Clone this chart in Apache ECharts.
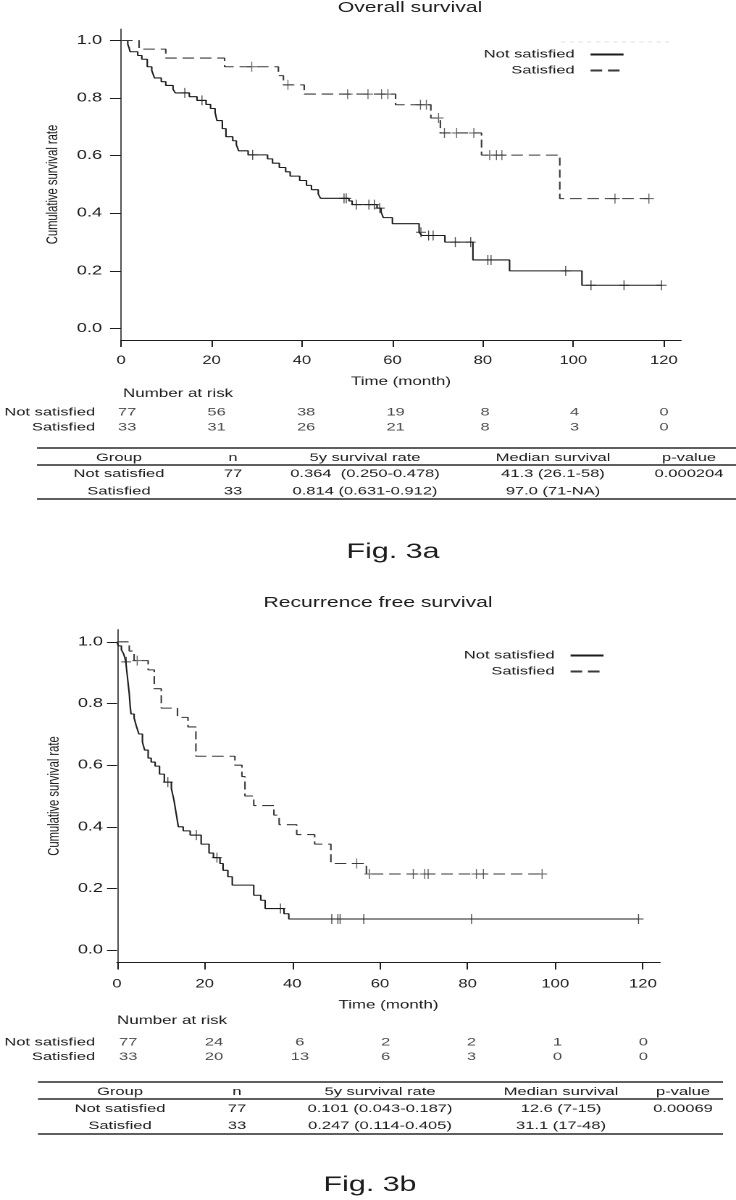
<!DOCTYPE html>
<html><head><meta charset="utf-8">
<script src="https://cdn.jsdelivr.net/npm/echarts@6/dist/echarts.min.js"></script>
<style>
html,body{margin:0;padding:0;background:#fff;overflow:hidden}
#chart{width:508px;height:1200px;transform:scaleX(1.448819);transform-origin:0 0}
</style>
</head><body><div id="chart"></div>
<script>
// ================= DATA =================
const timeTicks = [0, 20, 40, 60, 80, 100, 120];
const survTicks = [0, 0.2, 0.4, 0.6, 0.8, 1.0];
const groups = ['Not satisfied', 'Satisfied'];

// Overall survival - Not satisfied (event times, survival after event, censor times)
const osNotTimes = [1.5, 1.8, 2.0, 3.7, 4.6, 5.8, 6.8, 7.4, 8.9, 9.9, 11.5, 12.0, 15.1, 16.8, 18.8, 19.8, 20.8, 21.2, 22.4, 23.2, 24.7, 25.5, 26.0, 28.1, 32.4, 33.5, 35.0, 36.4, 37.4, 39.5, 41.0, 42.1, 43.6, 44.1, 50.4, 51.1, 56.6, 57.5, 58.0, 60.0, 65.9, 66.5, 71.6, 77.8, 85.9, 101.9];
const osNotSurv  = [0.987, 0.974, 0.961, 0.948, 0.935, 0.909, 0.896, 0.870, 0.857, 0.844, 0.831, 0.818, 0.805, 0.792, 0.778, 0.764, 0.750, 0.722, 0.694, 0.666, 0.652, 0.638, 0.617, 0.603, 0.589, 0.574, 0.559, 0.544, 0.529, 0.514, 0.497, 0.482, 0.467, 0.452, 0.443, 0.430, 0.418, 0.404, 0.385, 0.364, 0.334, 0.323, 0.300, 0.238, 0.200, 0.150];
const osNotCensor = [14.1, 17.9, 29.1, 49.3, 49.8, 52.0, 54.8, 56.0, 57.2, 66.3, 68.0, 69.0, 73.9, 77.3, 81.1, 81.8, 98.3, 103.9, 111.2, 119.5];

// Overall survival - Satisfied
const osSatTimes = [4.0, 9.9, 22.9, 34.8, 35.9, 40.5, 60.7, 68.5, 70.6, 79.7, 97.0];
const osSatSurv  = [0.970, 0.939, 0.909, 0.878, 0.846, 0.814, 0.777, 0.731, 0.679, 0.602, 0.451];
const osSatCensor = [28.9, 36.9, 50.1, 54.6, 57.6, 59.0, 66.2, 67.5, 70.2, 71.5, 74.2, 78.0, 81.5, 83.0, 84.2, 109.2, 116.7];

// Recurrence free survival - Not satisfied
const rfsNotTimes = [0.3, 1.0, 1.5, 1.8, 2.0, 2.2, 2.5, 2.8, 3.0, 3.2, 3.9, 4.4, 5.0, 5.8, 6.3, 7.1, 7.8, 8.7, 9.7, 10.8, 12.4, 13.0, 13.5, 14.0, 15.1, 16.7, 19.2, 21.0, 22.0, 23.5, 24.2, 25.3, 26.3, 31.2, 32.8, 33.8, 38.1, 39.2];
const rfsNotSurv  = [0.987, 0.974, 0.961, 0.948, 0.935, 0.909, 0.870, 0.831, 0.792, 0.766, 0.753, 0.727, 0.701, 0.675, 0.649, 0.623, 0.610, 0.597, 0.571, 0.545, 0.524, 0.486, 0.443, 0.400, 0.387, 0.373, 0.344, 0.315, 0.300, 0.281, 0.259, 0.238, 0.211, 0.178, 0.162, 0.135, 0.118, 0.101];
const rfsNotCensor = [2.1, 11.6, 18.1, 22.8, 37.3, 49.0, 50.4, 50.9, 56.3, 80.9, 119.0];

// Recurrence free survival - Satisfied
const rfsSatTimes = [2.8, 3.9, 7.1, 8.5, 10.1, 13.8, 16.2, 18.0, 26.9, 28.5, 29.2, 31.2, 35.8, 37.0, 41.0, 45.1, 48.8, 56.9];
const rfsSatSurv  = [0.970, 0.939, 0.909, 0.848, 0.785, 0.755, 0.724, 0.629, 0.600, 0.563, 0.500, 0.469, 0.438, 0.407, 0.375, 0.344, 0.281, 0.247];
const rfsSatCensor = [4.6, 54.7, 57.6, 67.6, 70.2, 71.0, 82.0, 83.6, 97.0];

// Numbers at risk
const osRiskNot  = [77, 56, 38, 19, 8, 4, 0];
const osRiskSat  = [33, 31, 26, 21, 8, 3, 0];
const rfsRiskNot = [77, 24, 6, 2, 2, 1, 0];
const rfsRiskSat = [33, 20, 13, 6, 3, 0, 0];

// Summary tables
const tableHeader = ['Group', 'n', '5y survival rate', 'Median survival', 'p-value'];
const osTableRows = [
  ['Not satisfied', '77', '0.364  (0.250-0.478)', '41.3 (26.1-58)', '0.000204'],
  ['Satisfied', '33', '0.814 (0.631-0.912)', '97.0 (71-NA)', '']
];
const rfsTableRows = [
  ['Not satisfied', '77', '0.101 (0.043-0.187)', '12.6 (7-15)', '0.00069'],
  ['Satisfied', '33', '0.247 (0.114-0.405)', '31.1 (17-48)', '']
];

const chartTitles = ['Overall survival', 'Recurrence free survival'];
const figLabels = ['Fig. 3a', 'Fig. 3b'];

// ================= HELPERS =================
const FONT = '"Liberation Sans", Arial, Helvetica, sans-serif';
const INK = '#1c1c1c';
const S = 736 / 508;              // horizontal stretch of the original figure
const X = v => v / S;             // page x -> canvas x

function kmPath(times, surv, censor) {
  const pts = [[0, 1]];
  let prev = 1;
  times.forEach((t, i) => { pts.push([t, prev]); pts.push([t, surv[i]]); prev = surv[i]; });
  const end = Math.max(times[times.length - 1], ...censor);
  pts.push([end, prev]);
  return pts;
}
function survAt(times, surv, t) {
  let s = 1;
  for (let i = 0; i < times.length; i++) if (times[i] <= t) s = surv[i];
  return s;
}
function censorPts(times, surv, censor) { return censor.map(c => [c, survAt(times, surv, c)]); }
function riskPts(rowName, values) { return values.map((v, i) => [timeTicks[i], rowName, v]); }

const PLUS = 'path://M4.5,0 L5.5,0 L5.5,4.5 L10,4.5 L10,5.5 L5.5,5.5 L5.5,10 L4.5,10 L4.5,5.5 L0,5.5 L0,4.5 L4.5,4.5 Z';

// ================= LAYOUT (page pixels) =================
const panels = [
  { axisLeft: 121, axisRight: 681, xMax: 123.8, top: 29, height: 311, yTick: 11,
    title: { x: 410, y: 8 }, nar: { x: 123, y: 394 }, riskTop: 405, riskH: 30, riskLabelRight: 89,
    legendRight: 625, legendRows: [56, 72], yNameCenter: 59, xLabelMargin: 15, xNameGap: 36,
    table: { x0: 37, x1: 736, cols: [119, 233, 365, 553, 689], top: 448, head: 458, under: 465, rows: [474, 491.5], bottom: 499 },
    fig: { x: 393, y: 552 } },
  { axisLeft: 117, axisRight: 660, xMax: 123.9, top: 629.5, height: 333, yTick: 10,
    title: { x: 378, y: 603 }, nar: { x: 117, y: 1021 }, riskTop: 1035, riskH: 29, riskLabelRight: 84,
    legendRight: 605, legendRows: [657, 673], yNameCenter: 56, xLabelMargin: 16, xNameGap: 37,
    table: { x0: 38, x1: 723, cols: [120, 237, 380, 561, 683], top: 1082, head: 1092, under: 1099, rows: [1109, 1126], bottom: 1134 },
    fig: { x: 370, y: 1185 } }
];

const kmSets = [
  { not: [osNotTimes, osNotSurv, osNotCensor], sat: [osSatTimes, osSatSurv, osSatCensor], risk: [osRiskNot, osRiskSat], rows: osTableRows },
  { not: [rfsNotTimes, rfsNotSurv, rfsNotCensor], sat: [rfsSatTimes, rfsSatSurv, rfsSatCensor], risk: [rfsRiskNot, rfsRiskSat], rows: rfsTableRows }
];

const grid = [], xAxis = [], yAxis = [], series = [], legend = [], graphic = [];
const txt = (size) => ({ fontFamily: FONT, fontSize: size, color: INK });
const textEl = (x, y, text, size, align) => ({
  type: 'text', x: X(x), y,
  style: { text, font: size + 'px ' + FONT, fill: INK, align: align || 'center', verticalAlign: 'middle',
           textAlign: align || 'center', textVerticalAlign: 'middle' }
});

panels.forEach((p, k) => {
  const gi = grid.length;
  grid.push({ left: X(p.axisLeft), width: X(p.axisRight - p.axisLeft), top: p.top, height: p.height });
  grid.push({ left: X(p.axisLeft), width: X(p.axisRight - p.axisLeft), top: p.riskTop, height: p.riskH });
  const lineCol = { color: INK, width: 1 };
  xAxis.push({
    gridIndex: gi, type: 'value', min: 0, max: p.xMax,
    axisLine: { show: true, onZero: false, lineStyle: lineCol },
    axisTick: { show: true, length: 7, customValues: timeTicks, lineStyle: lineCol },
    axisLabel: { customValues: timeTicks, margin: p.xLabelMargin, ...txt(11.5) },
    splitLine: { show: false },
    name: 'Time (month)', nameLocation: 'middle', nameGap: p.xNameGap, nameTextStyle: txt(11.7)
  });
  yAxis.push({
    gridIndex: gi, type: 'value', min: -0.04, max: 1.04,
    axisLine: { show: true, onZero: false, lineStyle: { color: INK, width: 1 / S * 1.1 } },
    axisTick: { show: true, length: X(p.yTick), customValues: survTicks, lineStyle: lineCol },
    axisLabel: { customValues: survTicks, margin: X(p.axisLeft - 102 + (k ? -1 : 0)), formatter: v => v.toFixed(1), ...txt(12.5) },
    splitLine: { show: false },
    name: 'Cumulative survival rate', nameLocation: 'middle', nameRotate: 90,
    nameGap: X(p.axisLeft - p.yNameCenter) - 5.5, nameTextStyle: txt(11.2)
  });
  xAxis.push({ gridIndex: gi + 1, type: 'value', min: 0, max: p.xMax, show: false });
  yAxis.push({
    gridIndex: gi + 1, type: 'category', data: groups, inverse: true,
    axisLine: { show: false }, axisTick: { show: false },
    axisLabel: { interval: 0, margin: X(p.axisLeft - p.riskLabelRight), ...txt(11.4) }, splitLine: { show: false }
  });

  const d = kmSets[k];
  const tag = k === 0 ? 'os' : 'rfs';
  series.push({
    name: groups[0], type: 'line', xAxisIndex: gi, yAxisIndex: gi, data: kmPath(...d.not),
    symbol: 'none', lineStyle: { color: INK, width: 1.05, type: 'solid' }, itemStyle: { color: INK },
    animation: false, z: 3
  });
  series.push({
    name: groups[1], type: 'line', xAxisIndex: gi, yAxisIndex: gi, data: kmPath(...d.sat),
    symbol: 'none', lineStyle: { color: '#3a3a3a', width: 1.05, type: [8, 4] }, itemStyle: { color: '#3a3a3a' },
    animation: false, z: 3
  });
  series.push({
    name: tag + ' censored not', type: 'scatter', xAxisIndex: gi, yAxisIndex: gi,
    data: censorPts(...d.not), symbol: PLUS, symbolKeepAspect: false, symbolSize: [X(10), 10],
    itemStyle: { color: INK }, animation: false, z: 4
  });
  series.push({
    name: tag + ' censored sat', type: 'scatter', xAxisIndex: gi, yAxisIndex: gi,
    data: censorPts(...d.sat), symbol: PLUS, symbolKeepAspect: false, symbolSize: [X(10), 10],
    itemStyle: { color: '#3a3a3a' }, animation: false, z: 4
  });
  series.push({
    name: tag + ' at risk', type: 'scatter', xAxisIndex: gi + 1, yAxisIndex: gi + 1,
    data: riskPts(groups[0], d.risk[0]).concat(riskPts(groups[1], d.risk[1])),
    symbolSize: 0, animation: false,
    label: { show: true, position: 'inside', formatter: o => String(o.value[2]), ...txt(11.4) }
  });

  // one legend per item so text and line are right aligned as in the original
  groups.forEach((g, j) => {
    legend.push({
      data: [g], right: X(736 - p.legendRight), top: p.legendRows[j] - 7, orient: 'horizontal', align: 'right',
      padding: 0, itemWidth: X(33), itemHeight: 10, selectedMode: false,
      itemStyle: { opacity: 0 },
      textStyle: { ...txt(11.4), padding: [0, 6, 0, 0] }
    });
  });

  graphic.push(textEl(p.title.x, p.title.y, chartTitles[k], 14.6));
  graphic.push(textEl(p.nar.x, p.nar.y, 'Number at risk', 11.7, 'left'));
  graphic.push(textEl(p.fig.x, p.fig.y, figLabels[k], 21));

  // summary table
  const t = p.table;
  [t.top, t.under, t.bottom].forEach(y => graphic.push({ type: 'line',
    shape: { x1: X(t.x0), y1: y, x2: X(t.x1), y2: y }, style: { stroke: '#2a2a2a', lineWidth: 1.6 } }));
  const rowsAll = [tableHeader].concat(d.rows);
  const ys = [t.head].concat(t.rows);
  rowsAll.forEach((r, ri) => r.forEach((c, ci) => {
    if (c) graphic.push(textEl(t.cols[ci], ys[ri], c, 11.4));
  }));
});

// faint artefact line above the first legend
graphic.push({ type: 'line', shape: { x1: X(561), y1: 42, x2: X(669), y2: 42 }, style: { stroke: '#e2e2e2', lineWidth: 1, lineDash: [3, 3] } });

const chart = echarts.init(document.getElementById('chart'), null, { renderer: 'canvas', devicePixelRatio: 2 });
chart.setOption({
  backgroundColor: '#fff', animation: false,
  grid, xAxis, yAxis, series, legend, graphic
});
</script></body></html>
